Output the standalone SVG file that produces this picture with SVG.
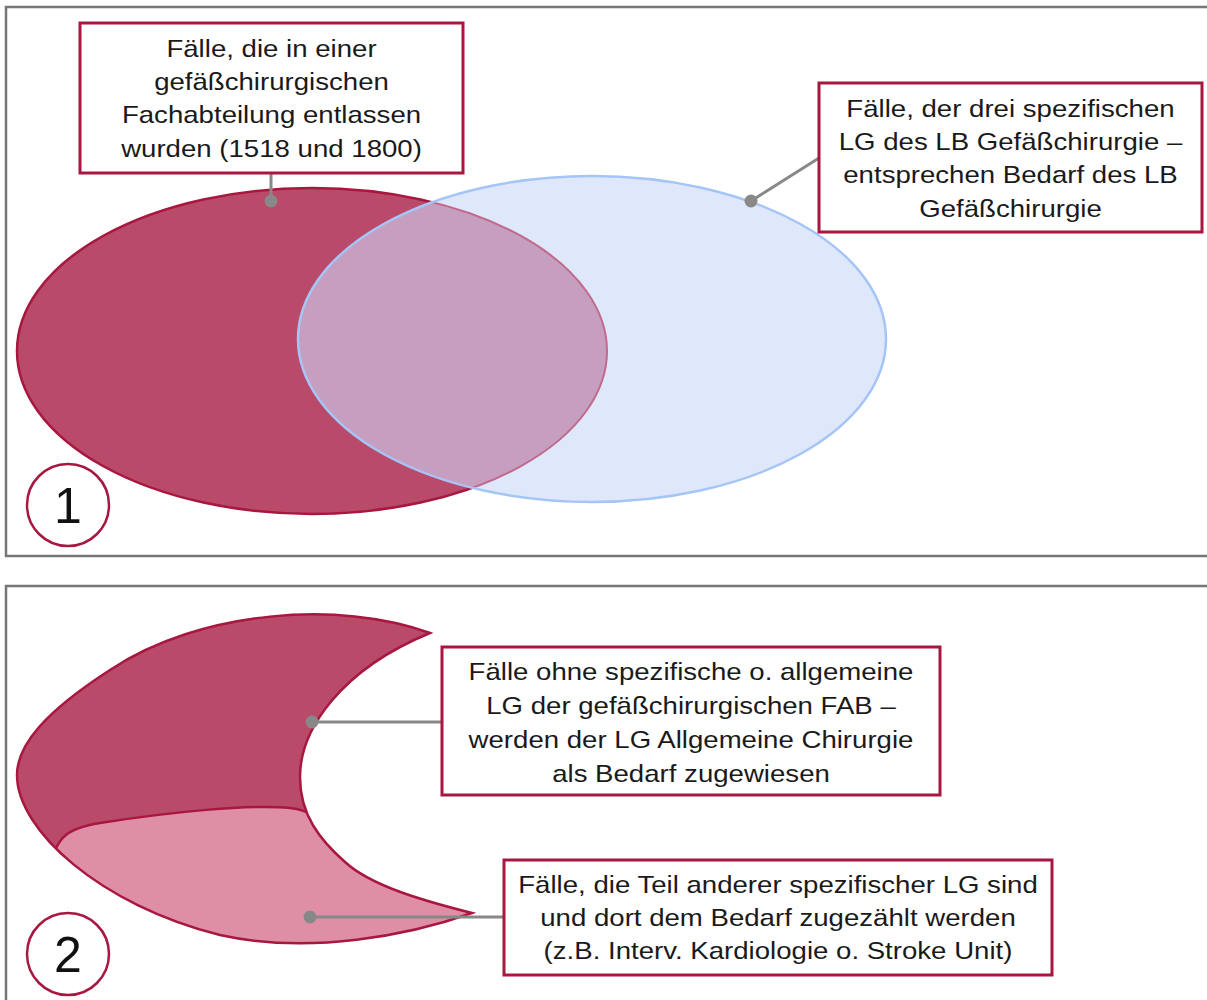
<svg xmlns="http://www.w3.org/2000/svg" width="1207" height="1000" viewBox="0 0 1207 1000">
<style>
.panel{fill:#ffffff;stroke:#767676;stroke-width:2.5}
.box{fill:#ffffff;stroke:#a8173f;stroke-width:3}
.lbl{font-family:"Liberation Sans",Arial,sans-serif;font-size:24px;fill:#1a1a1a;text-anchor:middle}
.num{font-family:"Liberation Sans",Arial,sans-serif;font-size:50px;fill:#111;text-anchor:middle}
.ring{fill:#ffffff;stroke:#a8173f;stroke-width:2.5}
.conn{stroke:#888888;stroke-width:3;fill:none}
.dot{fill:#888888}
</style>
<defs>
<clipPath id="blueClip"><ellipse cx="592" cy="339" rx="294" ry="163"/></clipPath>
<clipPath id="crescentClip"><path d="M430,633 C340,600 200,610 110,670 C45,712 17,745 17,775 C17,830 100,905 220,935 C310,955 410,935 472,913 C420,900 370,885 345,862 C320,840 300,815 300,777 C300,730 340,670 430,633 Z"/></clipPath>
</defs>
<rect class="panel" x="6" y="7" width="1210" height="549"/>
<rect class="panel" x="6" y="586" width="1210" height="430"/>
<g id="set-red">
<ellipse cx="312" cy="351" rx="295" ry="163" fill="#b94a6a" stroke="#a8173f" stroke-width="2.5"/>
</g>
<g id="set-blue">
<ellipse cx="592" cy="339" rx="294" ry="163" fill="#dfe7fb"/>
<ellipse cx="312" cy="351" rx="295" ry="163" fill="#c69fc0" stroke="#c06a8c" stroke-width="2" clip-path="url(#blueClip)"/>
<ellipse cx="592" cy="339" rx="294" ry="163" fill="none" stroke="#a6c5f7" stroke-width="2.5"/>
</g>
<g id="crescent">
<path d="M430,633 C340,600 200,610 110,670 C45,712 17,745 17,775 C17,830 100,905 220,935 C310,955 410,935 472,913 C420,900 370,885 345,862 C320,840 300,815 300,777 C300,730 340,670 430,633 Z" fill="#b94a6a"/>
<g clip-path="url(#crescentClip)">
<path d="M50,870 C55,835 70,828 100,823 C170,812 250,804 290,808 C310,810 322,820 335,835 L600,835 L600,1000 L0,1000 Z" fill="#df8fa5"/>
<path d="M50,870 C55,835 70,828 100,823 C170,812 250,804 290,808 C310,810 322,820 335,835" fill="none" stroke="#a8173f" stroke-width="2.5"/>
</g>
<path d="M430,633 C340,600 200,610 110,670 C45,712 17,745 17,775 C17,830 100,905 220,935 C310,955 410,935 472,913 C420,900 370,885 345,862 C320,840 300,815 300,777 C300,730 340,670 430,633 Z" fill="none" stroke="#a8173f" stroke-width="2.5"/>
</g>
<g id="connectors">
<line class="conn" x1="271" y1="173" x2="271" y2="201"/>
<circle class="dot" cx="271" cy="201" r="6.5"/>
<line class="conn" x1="751" y1="201" x2="819" y2="158"/>
<circle class="dot" cx="751" cy="201" r="6.5"/>
<line class="conn" x1="312" y1="722" x2="442" y2="722"/>
<circle class="dot" cx="312" cy="722" r="6.5"/>
<line class="conn" x1="310" y1="917" x2="504" y2="917"/>
<circle class="dot" cx="310" cy="917" r="6.5"/>
</g>
<g id="box1">
<rect class="box" x="80" y="23" width="383" height="150"/>
<g transform="translate(271.5 0) scale(1.15 1)">
<text class="lbl" x="0" y="57">Fälle, die in einer</text>
<text class="lbl" x="0" y="90">gefäßchirurgischen</text>
<text class="lbl" x="0" y="123">Fachabteilung entlassen</text>
<text class="lbl" x="0" y="157">wurden (1518 und 1800)</text>
</g>
</g>
<g id="box2">
<rect class="box" x="819" y="83" width="383" height="149"/>
<g transform="translate(1010.5 0) scale(1.15 1)">
<text class="lbl" x="0" y="117">Fälle, der drei spezifischen</text>
<text class="lbl" x="0" y="150">LG des LB Gefäßchirurgie –</text>
<text class="lbl" x="0" y="183">entsprechen Bedarf des LB</text>
<text class="lbl" x="0" y="217">Gefäßchirurgie</text>
</g>
</g>
<g id="box3">
<rect class="box" x="442" y="647" width="498" height="148"/>
<g transform="translate(691 0) scale(1.15 1)">
<text class="lbl" x="0" y="680">Fälle ohne spezifische o. allgemeine</text>
<text class="lbl" x="0" y="714">LG der gefäßchirurgischen FAB –</text>
<text class="lbl" x="0" y="748">werden der LG Allgemeine Chirurgie</text>
<text class="lbl" x="0" y="782">als Bedarf zugewiesen</text>
</g>
</g>
<g id="box4">
<rect class="box" x="504" y="860" width="548" height="115"/>
<g transform="translate(778 0) scale(1.15 1)">
<text class="lbl" x="0" y="893">Fälle, die Teil anderer spezifischer LG sind</text>
<text class="lbl" x="0" y="926">und dort dem Bedarf zugezählt werden</text>
<text class="lbl" x="0" y="959">(z.B. Interv. Kardiologie o. Stroke Unit)</text>
</g>
</g>
<g id="badge1">
<circle class="ring" cx="68" cy="505" r="41"/>
<text class="num" x="68" y="523">1</text>
</g>
<g id="badge2">
<circle class="ring" cx="68" cy="954" r="41"/>
<text class="num" x="68" y="972">2</text>
</g>
</svg>
